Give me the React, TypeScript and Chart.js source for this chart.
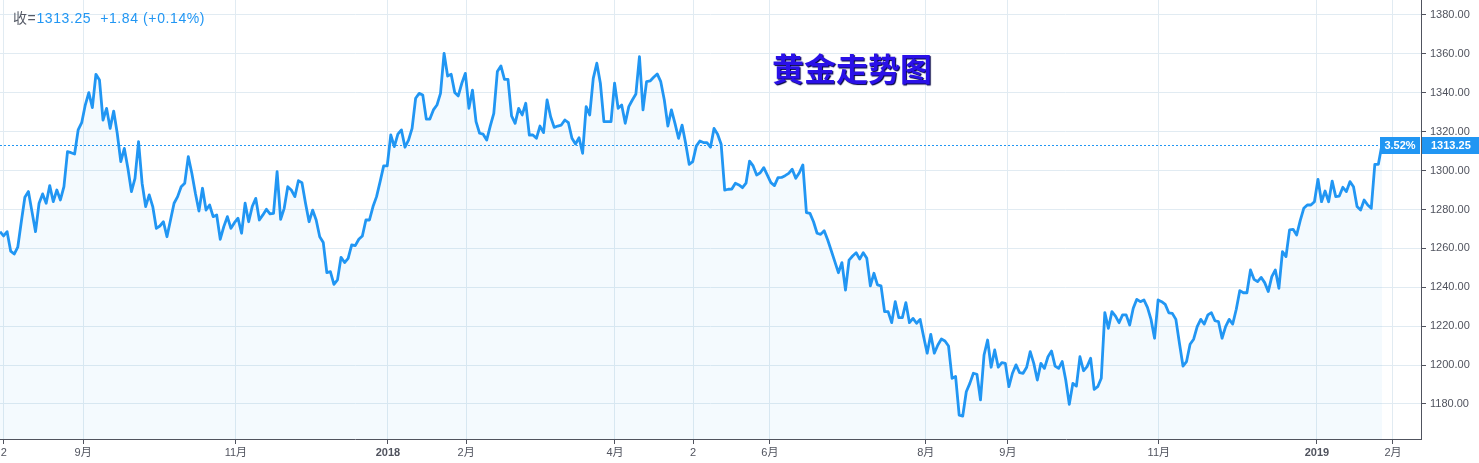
import React, { useEffect, useRef } from 'react';
import { Chart, registerables } from 'chart.js';

Chart.register(...registerables);

// Daily gold closes (Aug 2017 – Jan 2019)
const closes: number[] = [
  1268.6, 1266.4, 1268.6, 1258.6, 1257.1, 1260.6, 1273.7, 1286.3, 1289.2, 1278.9,
  1268.6, 1283.2, 1288.0, 1283.2, 1292.3, 1284.0, 1290.0, 1284.9, 1291.7, 1309.7,
  1309.2, 1308.5, 1320.9, 1324.6, 1333.7, 1340.1, 1332.4, 1349.5, 1346.6, 1326.0,
  1332.0, 1321.7, 1330.6, 1319.2, 1304.6, 1311.4, 1301.2, 1289.2, 1296.0, 1314.9,
  1293.5, 1281.5, 1287.5, 1281.5, 1270.3, 1271.5, 1273.7, 1266.0, 1274.6, 1283.2,
  1286.6, 1291.7, 1293.5, 1307.2, 1298.6, 1288.3, 1279.2, 1290.9, 1279.7, 1282.3,
  1276.3, 1277.2, 1264.7, 1271.2, 1276.3, 1270.3, 1273.2, 1275.5, 1267.8, 1283.2,
  1273.7, 1281.5, 1285.7, 1274.6, 1277.2, 1280.1, 1277.7, 1278.0, 1299.5, 1274.9,
  1280.6, 1291.7,
  1290.0, 1286.6, 1294.8, 1293.8, 1283.2, 1273.7, 1279.7, 1274.6, 1266.0, 1263.0,
  1247.5, 1248.0, 1241.5, 1243.8, 1255.4, 1252.7, 1254.9, 1261.8, 1261.4, 1264.7,
  1266.4, 1274.6, 1274.6, 1281.5, 1286.6, 1294.3, 1302.4, 1302.4, 1318.3, 1312.3,
  1318.7, 1320.9, 1312.0, 1315.7, 1321.7, 1337.2, 1339.7, 1338.9, 1326.5, 1326.5,
  1331.2, 1333.7, 1339.7, 1360.3, 1348.6, 1349.5, 1340.2, 1338.4, 1344.9, 1350.0,
  1332.0, 1341.4, 1325.2, 1319.2, 1318.7, 1315.7, 1322.9, 1329.4, 1350.9, 1353.8,
  1346.9, 1346.9, 1328.1, 1324.3, 1332.0, 1328.6, 1334.6, 1318.3, 1318.3, 1316.6,
  1322.9, 1319.5, 1336.3, 1327.7, 1322.2, 1322.9, 1323.4, 1326.0, 1324.6,
  1316.6, 1313.7, 1316.9, 1308.9, 1332.9, 1328.6, 1347.4, 1355.2, 1344.9, 1325.2,
  1325.2, 1325.2, 1344.9, 1332.0, 1333.7, 1324.3, 1332.9, 1336.3, 1339.4, 1358.6,
  1331.2, 1345.7, 1346.1, 1348.0, 1349.7, 1345.7, 1336.3, 1322.9, 1331.2, 1324.3,
  1316.6, 1323.4, 1314.0, 1303.2, 1304.6, 1312.6, 1315.2, 1314.4, 1314.4, 1312.0,
  1321.7, 1318.7, 1313.5, 1290.0, 1290.4, 1290.5, 1293.5, 1292.6, 1291.2, 1293.5,
  1304.9, 1302.4, 1297.7, 1298.9, 1301.5, 1297.7, 1293.8, 1292.3, 1296.4, 1296.5,
  1297.4, 1298.6, 1300.7, 1296.0, 1298.9, 1302.9, 1278.4, 1278.0, 1273.7, 1267.8,
  1267.2, 1269.1, 1264.3, 1258.8, 1253.2, 1247.5, 1252.7, 1238.6, 1254.0,
  1256.1, 1257.8, 1254.5, 1257.8, 1254.9, 1240.7, 1247.2, 1241.2, 1240.7, 1227.5,
  1227.5, 1221.8, 1232.6, 1224.4, 1224.4, 1232.1, 1221.8, 1224.0, 1221.5, 1223.5,
  1214.6, 1206.1, 1215.8, 1206.1, 1210.3, 1213.4, 1212.4, 1209.8, 1193.2, 1194.1,
  1174.3, 1173.8, 1186.3, 1190.6, 1195.8, 1195.3, 1182.1, 1205.2, 1212.9, 1198.9,
  1207.8, 1198.9, 1201.3, 1200.9, 1188.9, 1195.8, 1200.1, 1196.1, 1195.8, 1198.9,
  1206.9, 1200.9, 1192.3, 1200.9, 1198.3, 1204.3, 1207.2, 1199.5, 1198.3, 1201.8,
  1192.3, 1179.8, 1190.6, 1189.2, 1204.3, 1197.1, 1199.2, 1203.5, 1187.5, 1188.9,
  1193.2, 1227.0, 1218.9, 1227.5, 1225.2, 1221.8, 1225.8, 1225.8, 1220.6,
  1229.2, 1233.8, 1232.6, 1233.5, 1229.7, 1223.5, 1213.8, 1233.5, 1232.6, 1231.2,
  1226.9, 1226.6, 1223.5, 1211.2, 1199.5, 1201.8, 1210.7, 1213.3, 1219.8, 1223.5,
  1221.1, 1225.8, 1226.9, 1222.8, 1222.3, 1213.8, 1219.8, 1223.5, 1221.1, 1228.7,
  1238.3, 1237.2, 1237.2, 1248.9, 1244.1, 1242.9, 1245.1, 1242.4, 1237.8, 1245.5,
  1248.9, 1239.5, 1258.3, 1255.8, 1269.5, 1269.8, 1266.9, 1274.3, 1280.6, 1282.3,
  1282.3, 1284.0, 1295.5, 1284.0, 1289.5, 1284.0, 1294.6, 1286.6, 1286.9, 1291.4,
  1289.2, 1294.3, 1291.7, 1281.5, 1279.7, 1284.9, 1282.3, 1280.6, 1303.2, 1303.2,
  1313.25,
];

// x-axis: trading-day index of each time label
const tickIndex: number[] = [1.1, 23.4, 66.4, 109.2, 131.2, 173.1, 195.1, 216.7, 260.6, 283.7, 326.2, 370.7, 392.1];
const tickLabels: string[] = ['2', '9月', '11月', '2018', '2月', '4月', '2', '6月', '8月', '9月', '11月', '2019', '2月'];
const boldLabels: string[] = ['2018', '2019'];

// y-axis price ticks
const yTicks: number[] = [1180, 1200, 1220, 1240, 1260, 1280, 1300, 1320, 1340, 1360, 1380];

const lastClose = 1313.25;
const changeAbs = '+1.84';
const changePct = '(+0.14%)';
const rangePct = '3.52%';
const titleText = '黄金走势图';
const closeLabel = '收=';

const X_MIN = 0;
const X_MAX = 400.0;
const Y_MIN = 1162.0;
const Y_MAX = 1387.7;

const BLUE = '#2196f3';
const AXIS = '#50535e';
const GRID = '#e1ebf2';
const FONT = '"Liberation Sans", Arial, "Noto Sans CJK SC", sans-serif';

const lastPricePlugin = {
  id: 'lastPrice',
  afterDraw(chart: any) {
    const { ctx, chartArea, scales } = chart;
    const py = Math.round(scales.y.getPixelForValue(lastClose)) + 0.5;
    ctx.save();
    ctx.strokeStyle = BLUE;
    ctx.lineWidth = 1;
    ctx.setLineDash([2, 2]);
    ctx.beginPath();
    ctx.moveTo(chartArea.left, py);
    ctx.lineTo(chartArea.right - 41, py);
    ctx.stroke();
    ctx.setLineDash([]);
    const h = 17;
    ctx.fillStyle = BLUE;
    ctx.fillRect(chartArea.right - 41, py - h / 2, 40, h);
    ctx.fillRect(chartArea.right + 1, py - h / 2, chart.width - chartArea.right - 1, h);
    ctx.fillStyle = '#ffffff';
    ctx.font = 'bold 11px ' + FONT;
    ctx.textBaseline = 'middle';
    ctx.textAlign = 'center';
    ctx.fillText(rangePct, chartArea.right - 21, py + 0.5);
    ctx.textAlign = 'left';
    ctx.fillText(lastClose.toFixed(2), chartArea.right + 10, py + 0.5);
    ctx.restore();
  },
};

export default function App() {
  const canvasRef = useRef<HTMLCanvasElement | null>(null);

  useEffect(() => {
    if (!canvasRef.current) return;
    const chart = new Chart(canvasRef.current, {
      type: 'line',
      data: {
        datasets: [
          {
            data: closes.map((v, i) => ({ x: i, y: v })),
            borderColor: BLUE,
            borderWidth: 2.8,
            backgroundColor: 'rgba(33,150,243,0.05)',
            fill: 'start',
            pointRadius: 0,
            tension: 0,
            borderJoinStyle: 'round',
          },
        ],
      },
      options: {
        animation: false,
        responsive: false,
        devicePixelRatio: 1,
        layout: { padding: 0 },
        plugins: {
          legend: { display: false },
          tooltip: { enabled: false },
          title: { display: false },
        },
        scales: {
          x: {
            type: 'linear',
            min: X_MIN,
            max: X_MAX,
            afterBuildTicks: (scale: any) => {
              scale.ticks = tickIndex.map((v) => ({ value: v }));
            },
            afterFit: (scale: any) => {
              scale.height = 24;
              scale.paddingLeft = 0;
              scale.paddingRight = 0;
            },
            grid: { color: GRID, tickColor: AXIS, tickLength: 5, lineWidth: 1 },
            border: { display: true, color: AXIS, width: 1 },
            ticks: {
              autoSkip: false,
              maxRotation: 0,
              padding: 2,
              color: AXIS,
              callback: (_v: any, i: number) => tickLabels[i],
              font: (c: any) => ({
                family: FONT,
                size: 11,
                weight: boldLabels.includes(tickLabels[c.index]) ? 'bold' : 'normal',
              }),
            },
          },
          y: {
            type: 'linear',
            position: 'right',
            min: Y_MIN,
            max: Y_MAX,
            afterBuildTicks: (scale: any) => {
              scale.ticks = yTicks.map((v) => ({ value: v }));
            },
            afterFit: (scale: any) => {
              scale.width = 58;
              scale.paddingTop = 0;
              scale.paddingBottom = 0;
            },
            grid: { color: GRID, tickColor: AXIS, tickLength: 5, lineWidth: 1 },
            border: { display: true, color: AXIS, width: 1 },
            ticks: {
              padding: 4,
              color: AXIS,
              font: { family: FONT, size: 11 },
              callback: (v: any) => Number(v).toFixed(2),
            },
          },
        },
      } as any,
      plugins: [lastPricePlugin],
    });
    return () => chart.destroy();
  }, []);

  return (
    <div style={{ position: 'fixed', left: 0, top: 0, width: 1479, height: 463, background: '#fff' }}>
      <canvas ref={canvasRef} width={1479} height={463} style={{ display: 'block', width: 1479, height: 463 }} />
      <div
        style={{
          position: 'absolute',
          left: 13,
          top: 11,
          fontFamily: FONT,
          fontSize: 14,
          lineHeight: '14px',
          letterSpacing: '0.6px',
          whiteSpace: 'pre',
          color: BLUE,
        }}
      >
        <span style={{ color: '#555a66' }}>{closeLabel}</span>
        {lastClose.toFixed(2) + '  ' + changeAbs + ' ' + changePct}
      </div>
      <div
        style={{
          position: 'absolute',
          left: 772,
          top: 51,
          fontFamily: '"Noto Sans CJK SC", sans-serif',
          fontWeight: 'bold',
          fontSize: 32,
          lineHeight: '32px',
          color: '#2a10e8',
          textShadow: '1px 1px 1px #000040',
          whiteSpace: 'nowrap',
        }}
      >
        {titleText}
      </div>
    </div>
  );
}
